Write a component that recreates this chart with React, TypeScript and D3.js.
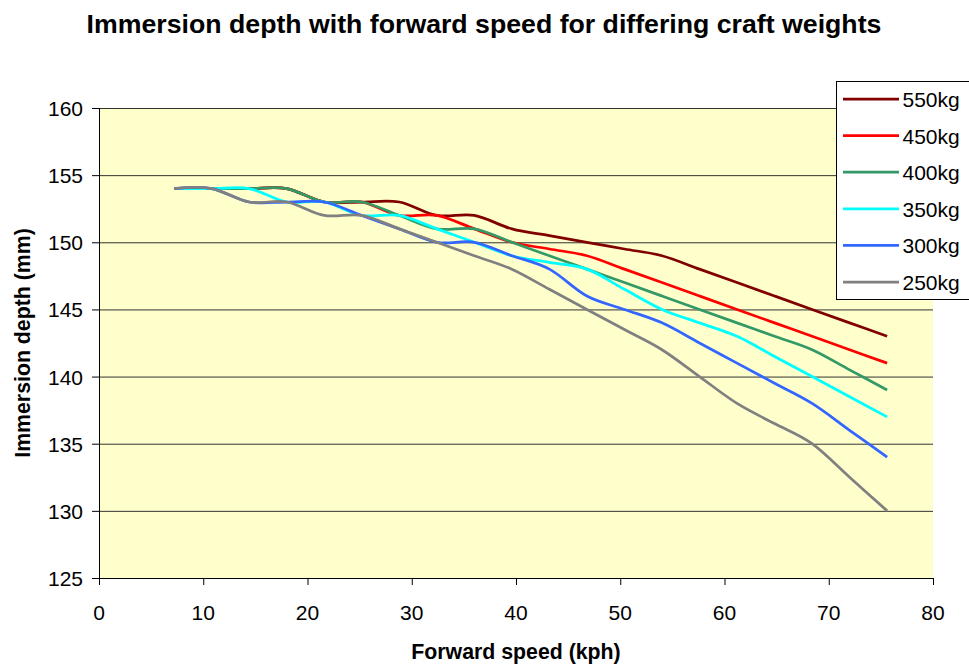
import React from "react";
import * as d3 from "d3";

// Forward speed (kph) at which each immersion depth was recorded
const speeds = [7.2, 10.8, 14.4, 18.0, 21.6, 25.2, 28.8, 32.4, 36.0, 39.6, 43.2, 46.8, 50.4, 54.0, 57.6, 61.2, 64.8, 68.4, 72.0, 75.6];

// Immersion depth (mm) per craft weight
const depth550 = [154, 154, 154, 154, 153, 153, 153, 152, 152, 151, 150.5, 150, 149.5, 149, 148, 147, 146, 145, 144, 143];
const depth450 = [154, 154, 154, 154, 153, 153, 152, 152, 151, 150, 149.5, 149, 148, 147, 146, 145, 144, 143, 142, 141];
const depth400 = [154, 154, 154, 154, 153, 153, 152, 151, 151, 150, 149, 148, 147, 146, 145, 144, 143, 142, 140.5, 139];
const depth350 = [154, 154, 154, 153, 153, 152, 152, 151, 150, 149, 148.5, 148, 146.5, 145, 144, 143, 141.5, 140, 138.5, 137];
const depth300 = [154, 154, 153, 153, 153, 152, 151, 150, 150, 149, 148, 146, 145, 144, 142.5, 141, 139.5, 138, 136, 134];
const depth250 = [154, 154, 153, 153, 152, 152, 151, 150, 149, 148, 146.5, 145, 143.5, 142, 140, 138, 136.5, 135, 132.5, 130];

const seriesNames = ["550kg", "450kg", "400kg", "350kg", "300kg", "250kg"];
const seriesValues = [depth550, depth450, depth400, depth350, depth300, depth250];
const seriesColors = ["#800000", "#ff0000", "#339966", "#00ffff", "#3366ff", "#808080"];

const xTicks = [0, 10, 20, 30, 40, 50, 60, 70, 80];
const yTicks = [125, 130, 135, 140, 145, 150, 155, 160];

const W = 969;
const H = 666;
const plot = { left: 99, right: 933, top: 108, bottom: 578 };
const font = "'Liberation Sans', Arial, sans-serif";

export default function App() {
  const x = d3.scaleLinear().domain([0, 80]).range([plot.left, plot.right]);
  const y = d3.scaleLinear().domain([125, 160]).range([plot.bottom, plot.top]);

  const line = d3
    .line<[number, number]>()
    .x((d) => x(d[0]))
    .y((d) => y(d[1]))
    .curve(d3.curveCardinal.tension(0));

  const legend = { x: 836.5, y: 81.5, w: 140, h: 218, row0: 99, step: 36.6 };

  return (
    <div style={{ position: "absolute", left: 0, top: 0 }}>
      <svg width={W} height={H} style={{ display: "block", background: "#fff" }} fontFamily={font}>
        <text x={484} y={33} textAnchor="middle" fontSize={26.7} fontWeight="bold">
          Immersion depth with forward speed for differing craft weights
        </text>

        <rect
          x={plot.left}
          y={plot.top}
          width={plot.right - plot.left}
          height={plot.bottom - plot.top}
          fill="#ffffcc"
        />

        {yTicks.map((t) => (
          <g key={t}>
            {t !== 125 && (
              <line x1={plot.left} x2={plot.right} y1={y(t) + 0.5} y2={y(t) + 0.5} stroke="#333" strokeWidth={1} />
            )}
            <line x1={plot.left - 7} x2={plot.left} y1={y(t) + 0.5} y2={y(t) + 0.5} stroke="#000" />
            <text x={83} y={y(t) + 8} textAnchor="end" fontSize={21}>
              {t}
            </text>
          </g>
        ))}

        {xTicks.map((t) => (
          <g key={t}>
            <line x1={x(t) + 0.5} x2={x(t) + 0.5} y1={plot.bottom} y2={plot.bottom + 7} stroke="#000" />
            <text x={x(t)} y={620} textAnchor="middle" fontSize={21}>
              {t}
            </text>
          </g>
        ))}

        <line x1={plot.left + 0.5} x2={plot.left + 0.5} y1={plot.top} y2={plot.bottom} stroke="#000" />
        <line x1={plot.left} x2={plot.right + 0.5} y1={plot.bottom + 0.5} y2={plot.bottom + 0.5} stroke="#000" />

        {seriesValues.map((vals, i) => (
          <path
            key={seriesNames[i]}
            d={line(speeds.map((s, j) => [s, vals[j]] as [number, number])) || ""}
            fill="none"
            stroke={seriesColors[i]}
            strokeWidth={2.75}
          />
        ))}

        <text x={(plot.left + plot.right) / 2} y={659} textAnchor="middle" fontSize={21.3} fontWeight="bold">
          Forward speed (kph)
        </text>
        <text
          transform={`translate(29.5, ${(plot.top + plot.bottom) / 2}) rotate(-90)`}
          textAnchor="middle"
          fontSize={21.3}
          fontWeight="bold"
        >
          Immersion depth (mm)
        </text>

        <rect x={legend.x} y={legend.y} width={legend.w} height={legend.h} fill="#fff" stroke="#000" strokeWidth={1} />
        {seriesNames.map((name, i) => {
          const ry = legend.row0 + i * legend.step;
          return (
            <g key={name}>
              <line x1={843} x2={899} y1={ry} y2={ry} stroke={seriesColors[i]} strokeWidth={2.75} />
              <text x={902.5} y={ry + 8} fontSize={21}>
                {name}
              </text>
            </g>
          );
        })}
      </svg>
    </div>
  );
}
